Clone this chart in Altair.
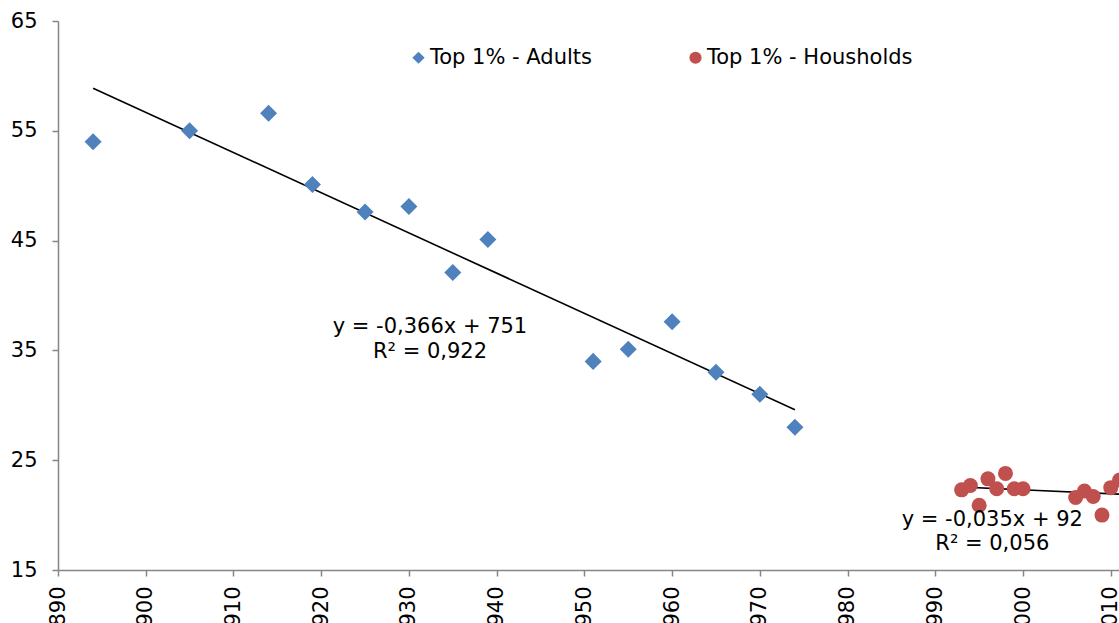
import altair as alt
import pandas as pd

# Top 1% - Adults
adult_years = [1894, 1905, 1914, 1919, 1925, 1930, 1935, 1939, 1951, 1955, 1960, 1965, 1970, 1974]
adult_values = [54.0, 55.0, 56.6, 50.1, 47.6, 48.1, 42.1, 45.1, 34.0, 35.1, 37.6, 33.0, 31.0, 28.0]

# Top 1% - Housholds
hh_years = [1993, 1994, 1995, 1996, 1997, 1998, 1999, 2000, 2006, 2007, 2008, 2009, 2010, 2011]
hh_values = [22.3, 22.7, 20.9, 23.3, 22.4, 23.8, 22.4, 22.4, 21.6, 22.2, 21.7, 20.0, 22.5, 23.2]

series_names = ["Top 1% - Adults", "Top 1% - Housholds"]
series_colors = ["#4F81BD", "#C0504D"]
series_shapes = ["diamond", "circle"]

x_ticks = [1890, 1900, 1910, 1920, 1930, 1940, 1950, 1960, 1970, 1980, 1990, 2000, 2010]
y_ticks = [15, 25, 35, 45, 55, 65]

ann_text = ["y = -0,366x + 751", "R² = 0,922", "y = -0,035x + 92", "R² = 0,056"]
ann_x = [1932.4, 1932.4, 1996.5, 1996.5]
ann_y = [37.1, 34.85, 19.55, 17.35]

df = pd.DataFrame({
    "year": adult_years + hh_years,
    "value": adult_values + hh_values,
    "series": [series_names[0]] * len(adult_years) + [series_names[1]] * len(hh_years),
})
ann = pd.DataFrame({"text": ann_text, "year": ann_x, "value": ann_y})

FONT = "DejaVu Sans"
FS = 21

x_scale = alt.Scale(domain=[1890, 2010.94], nice=False, zero=False)
y_scale = alt.Scale(domain=[15, 65], nice=False, zero=False)

x_enc = alt.X("year:Q", scale=x_scale,
              axis=alt.Axis(values=x_ticks, format="d", labelAngle=270, labelPadding=10, title=None))
y_enc = alt.Y("value:Q", scale=y_scale,
              axis=alt.Axis(values=y_ticks, labelPadding=15, title=None))

color_enc = alt.Color("series:N", scale=alt.Scale(domain=series_names, range=series_colors),
                      legend=alt.Legend(title=None, orient="none", direction="horizontal",
                                        legendX=350, legendY=26, columnPadding=92,
                                        symbolSize=150, labelFontSize=FS, labelFont=FONT,
                                        labelColor="black", labelOffset=1, labelLimit=0,
                                        symbolStrokeWidth=0))
shape_enc = alt.Shape("series:N", scale=alt.Scale(domain=series_names, range=series_shapes))

base = alt.Chart(df)

adults = base.transform_filter(alt.datum.series == series_names[0]).mark_point(
    filled=True, opacity=1, size=290).encode(x=x_enc, y=y_enc, color=color_enc, shape=shape_enc)
hh = base.transform_filter(alt.datum.series == series_names[1]).mark_point(
    filled=True, opacity=1, size=225).encode(x=x_enc, y=y_enc, color=color_enc, shape=shape_enc)

reg = base.transform_regression("year", "value", groupby=["series"]).mark_line(
    color="black", strokeWidth=1.6).encode(x=x_enc, y=y_enc, detail="series:N")

texts = alt.Chart(ann).mark_text(font=FONT, fontSize=FS, color="black", align="center",
                                 baseline="middle").encode(x=x_enc, y=y_enc, text="text:N")

chart = alt.layer(reg, adults, hh, texts).properties(
    width=1061, height=549,
    padding={"left": 58, "top": 21, "right": 0, "bottom": 53},
    autosize=alt.AutoSizeParams(type="none"),
    background="white",
).configure_axis(
    grid=False, domainColor="#868686", tickColor="#868686", domainWidth=1.5, tickWidth=1.5,
    tickSize=6, labelFont=FONT, labelFontSize=FS, labelColor="black"
).configure_view(stroke=None)

chart.save("out.html", embed_options={"renderer": "svg", "actions": False})
